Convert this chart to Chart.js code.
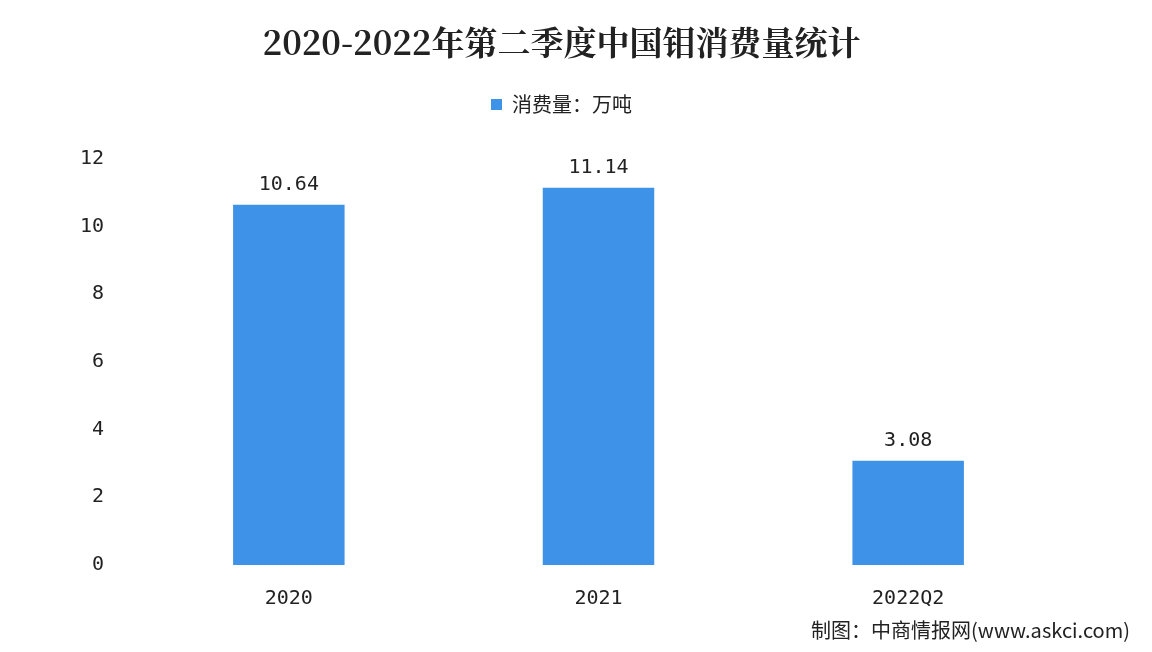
<!DOCTYPE html>
<html>
<head>
<meta charset="utf-8">
<script src="https://cdn.jsdelivr.net/npm/chart.js@4"></script>
<style>
  body { margin: 0; background: #fff; }
  #wrap { position: relative; width: 1152px; height: 652px; }
  #note { position: absolute; right: 22px; bottom: 8px; font: 20px "Noto Sans CJK SC", sans-serif; color: #222; }
</style>
</head>
<body>
<div id="wrap">
  <canvas id="grafico" width="1152" height="652"></canvas>
  <div id="note">制图：中商情报网(www.askci.com)</div>
</div>
<script>
var categorias = ["2020", "2021", "2022Q2"];
var consumo = [10.64, 11.14, 3.08];
var ticksY = [0, 2, 4, 6, 8, 10, 12];

var etiquetas = {
    id: 'etiquetas',
    afterDatasetsDraw: function(chart) {
        var ctx = chart.ctx;
        var meta = chart.getDatasetMeta(0);
        ctx.save();
        ctx.font = '20px "DejaVu Sans Mono", monospace';
        ctx.fillStyle = '#222';
        ctx.textAlign = 'center';
        ctx.textBaseline = 'bottom';
        meta.data.forEach(function(bar, i) {
            ctx.fillText(consumo[i].toFixed(2), bar.x, bar.y - 10);
        });
        ctx.restore();
    }
};

// espacio extra debajo de la leyenda
var espacioLeyenda = {
    id: 'espacioLeyenda',
    beforeInit: function(chart) {
        var fitOriginal = chart.legend.fit;
        chart.legend.fit = function() {
            fitOriginal.bind(chart.legend)();
            this.height += 34;
        };
    }
};

var chart = new Chart(document.getElementById('grafico'), {
    type: 'bar',
    data: {
        labels: categorias,
        datasets: [{
            label: '消费量：万吨',
            data: consumo,
            backgroundColor: '#3e92e8',
            categoryPercentage: 0.36,
            barPercentage: 1
        }]
    },
    options: {
        responsive: false,
        animation: false,
        layout: { padding: { left: 60, right: 89, top: 10, bottom: 37 } },
        plugins: {
            title: {
                display: true,
                text: '2020-2022年第二季度中国钼消费量统计',
                font: { size: 33, weight: 'bold', family: '"Noto Serif CJK SC", "Noto Sans CJK SC", serif' },
                color: '#222',
                padding: { top: 13, bottom: 20 }
            },
            legend: {
                display: true,
                labels: {
                    boxWidth: 11, boxHeight: 11,
                    font: { size: 20, family: '"Noto Sans CJK SC", sans-serif' },
                    color: '#222',
                    padding: 12
                }
            },
            tooltip: { enabled: false }
        },
        scales: {
            x: {
                grid: { display: false },
                border: { display: false },
                ticks: { font: { size: 20, family: '"DejaVu Sans Mono", monospace' }, color: '#222', padding: 14 },
                afterFit: function(s) { s.height = 50; }
            },
            y: {
                min: 0, max: 12,
                grid: { display: false },
                border: { display: false },
                afterBuildTicks: function(s) { s.ticks = ticksY.map(function(v) { return { value: v }; }); },
                ticks: { font: { size: 20, family: '"DejaVu Sans Mono", monospace' }, color: '#222', padding: 22 },
                afterFit: function(s) { s.width = 74; }
            }
        }
    },
    plugins: [etiquetas, espacioLeyenda]
});
</script>
</body>
</html>
